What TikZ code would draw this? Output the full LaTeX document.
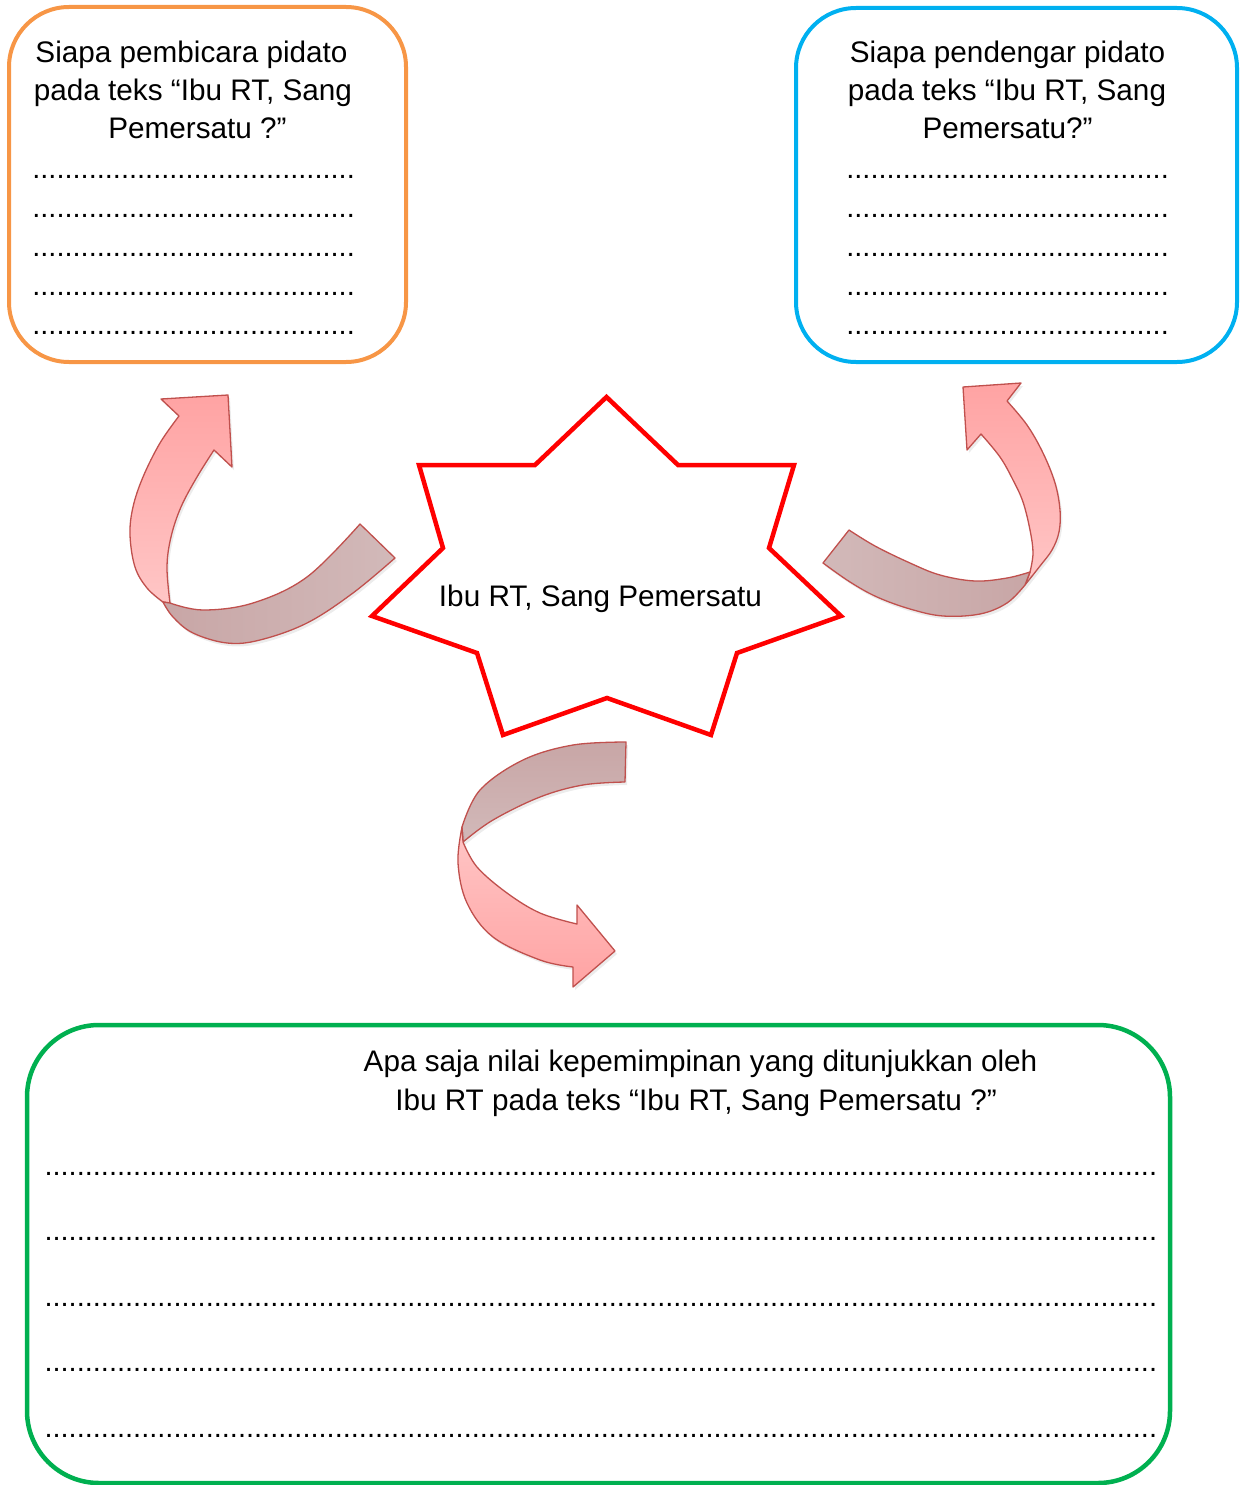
\documentclass[tikz,border=0pt]{standalone}
\usepackage{fontspec}
\setmainfont{Liberation Sans}
\usetikzlibrary{shadows}
\ExplSyntaxOn
\cs_new:Npn \repdots #1 {\prg_replicate:nn{#1}{.}}
\ExplSyntaxOff
\definecolor{boxorange}{HTML}{F79646}
\definecolor{boxblue}{HTML}{00B0F0}
\definecolor{boxgreen}{HTML}{00B050}
\definecolor{starred}{HTML}{FF0000}
\definecolor{arrline}{HTML}{C0504D}
\definecolor{pkD}{HTML}{FFA3A3}
\definecolor{pkL}{HTML}{FFC6C6}
\definecolor{gyD}{HTML}{C8A6A6}
\definecolor{gyL}{HTML}{D2B9B9}
\begin{document}
\begin{tikzpicture}[x=1pt,y=-1pt,
  card/.style={draw, line width=4pt, rounded corners=60pt, inner sep=0pt},
  txt/.style={font=\fontsize{29.7}{36}\selectfont, inner sep=0pt, anchor=base},
  dotrow/.style={font=\fontsize{29}{36}\selectfont, inner sep=0pt, anchor=base},
  ribbon/.style={draw=arrline, line width=1.3pt, line join=round,
     drop shadow={opacity=0.15, shadow xshift=2pt, shadow yshift=-3pt}},
]
\useasboundingbox (0,0) rectangle (1245,1485);

% ---------- boxes ----------
\node[card, draw=boxorange, minimum width=397, minimum height=355] (pembicara) at (207.5,184.5) {};
\node[card, draw=boxblue, minimum width=441, minimum height=354] (pendengar) at (1016.5,185) {};
\node[card, draw=boxgreen, line width=4.5pt, rounded corners=72pt, minimum width=1143, minimum height=458] (nilai) at (598.5,1254) {};

% ---------- left box text ----------
\node[txt] (l1) at (191.5,62.5) {Siapa pembicara pidato};
\node[txt] (l2) at (193,100.5) {pada teks “Ibu RT, Sang};
\node[txt] (l3) at (197.5,138.5) {Pemersatu ?”};
\foreach \yy [count=\k] in {178,217,256,295,334}
  \node[dotrow] (ld\k) at (193.5,\yy) {\repdots{40}};

% ---------- right box text ----------
\node[txt] (r1) at (1007.5,62.5) {Siapa pendengar pidato};
\node[txt] (r2) at (1007,100.5) {pada teks “Ibu RT, Sang};
\node[txt] (r3) at (1007.5,138.5) {Pemersatu?”};
\foreach \yy [count=\k] in {178,217,256,295,334}
  \node[dotrow] (rd\k) at (1007.5,\yy) {\repdots{40}};

% ---------- bottom box text ----------
\node[txt] (g1) at (700.5,1071) {Apa saja nilai kepemimpinan yang ditunjukkan oleh};
\node[txt] (g2) at (696,1110) {Ibu RT pada teks “Ibu RT, Sang Pemersatu ?”};
\foreach \yy [count=\k] in {1175,1240.5,1306,1371.5,1437}
  \node[dotrow] (gd\k) at (600.5,\yy) {\repdots{138}};

% ---------- star ----------
\draw[starred, line width=4.5pt, fill=white]
  (606.5,397) -- (678,465) -- (794,465) -- (769,548) -- (841,616) -- (737,653)
  -- (711,735) -- (607,698) -- (503,735) -- (477,653) -- (372,616) -- (443,548)
  -- (419,465) -- (535,465) -- cycle;
\node[txt] (pusat) at (600.5,606) {Ibu RT, Sang Pemersatu};

% ---------- left curved arrow ----------
\shadedraw[ribbon, top color=pkD, bottom color=pkL]
  (179,416) -- (161,399) -- (228,395) -- (232,467) -- (214,450)
  -- plot[smooth, tension=0.6] coordinates {(214,450) (197,477) (181,507) (171,537) (167,567) (170,603)}
  -- plot[smooth, tension=0.6] coordinates {(163,602) (147,588) (135,567) (130,535) (133,507) (143,477) (160,443) (179,416)}
  -- cycle;
\shadedraw[ribbon, left color=gyD, right color=gyL]
  plot[smooth, tension=0.6] coordinates {(170,603) (203,610) (253,603) (307,577) (360,524)}
  -- (395,558)
  -- plot[smooth, tension=0.6] coordinates {(395,558) (353,593) (307,623) (260,640) (227,643) (193,633) (173,617) (163,602)}
  -- cycle;

% ---------- right curved arrow ----------
\shadedraw[ribbon, top color=pkD, bottom color=pkL]
  (1007,401) -- (1021,383) -- (963,387) -- (967,450) -- (981,434)
  -- plot[smooth, tension=0.6] coordinates {(981,434) (1000,457) (1013,480) (1023,502) (1030,530) (1033,553) (1030,572)}
  -- (1025,585)
  -- plot[smooth, tension=0.6] coordinates {(1025,585) (1040,566) (1052,550) (1059,532) (1060,510) (1055,483) (1043,453) (1027,425) (1007,401)}
  -- cycle;
\shadedraw[ribbon, left color=gyL, right color=gyD]
  plot[smooth, tension=0.6] coordinates {(1030,572) (1007,578) (975,581) (940,575) (910,563) (875,546) (849,530)}
  -- (823,563)
  -- plot[smooth, tension=0.6] coordinates {(823,563) (850,582) (877,597) (910,609) (943,616) (980,614) (1007,603) (1025,585)}
  -- cycle;

% ---------- bottom curved arrow ----------
\shadedraw[ribbon, top color=gyD, bottom color=gyL]
  plot[smooth, tension=0.6] coordinates {(626,742) (573,745) (523,760) (480,790) (462,827)}
  -- (463,842)
  -- plot[smooth, tension=0.6] coordinates {(463,842) (493,820) (540,797) (583,785) (625,782)}
  -- cycle;
\shadedraw[ribbon, top color=pkL, bottom color=pkD]
  plot[smooth, tension=0.6] coordinates {(462,827) (458,863) (467,903) (493,937) (540,960) (573,967)}
  -- (573,987) -- (615,951) -- (577,905) -- (577,924)
  -- plot[smooth, tension=0.6] coordinates {(577,924) (540,913) (507,893) (477,867) (463,842)}
  -- cycle;
\end{tikzpicture}
\end{document}
